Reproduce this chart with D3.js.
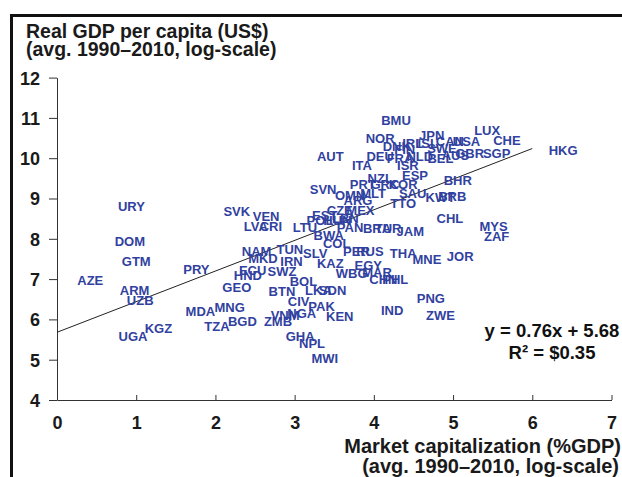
<!DOCTYPE html>
<html>
<head>
<meta charset="utf-8">
<script src="https://cdn.jsdelivr.net/npm/d3@7/dist/d3.min.js"></script>
<style>
  body { margin: 0; background: #fff; }
  svg { display: block; font-family: "Liberation Sans", Arial, sans-serif; }
  .axis path, .axis line { stroke: #333; }
  .axis text { font-size: 18px; font-weight: bold; fill: #1a1a1a; }
  .code { font-size: 13px; font-weight: bold; fill: #3141a0; }
</style>
</head>
<body>
<svg id="chart" width="622" height="477"></svg>
<script>
// country codes, market cap (x) and log GDP per capita (y)
const codes = ["URY","DOM","GTM","AZE","ARM","UZB","UGA","KGZ","PRY","MDA",
  "MNG","TZA","BGD","GEO","HND","SVK","LVA","CRI","VEN","NAM",
  "TUN","MKD","IRN","ECU","SWZ","KAZ","SLV","BOL","BTN","LKA",
  "SDN","CIV","PAK","KEN","VNM","NGA","ZMB","GHA","NPL","MWI",
  "IND","PNG","ZWE","PHL","CHN","WBG","EGY","MAR","PER","RUS",
  "THA","MNE","JOR","JAM","BRA","TUR","BWA","COL","LTU","PAN",
  "POL","HUN","EST","LBN","CZE","MEX","TTO","ARG","OMN","MLT",
  "SVN","PRT","GRC","KOR","NZL","ESP","ISR","ITA","AUT","DEU",
  "FRA","NLD","BEL","AUS","GBR","SGP","HKG","CHE","LUX","USA",
  "CAN","ISL","IRL","DNK","FIN","SWE","NOR","JPN","BMU","BHR",
  "SAU","KWT","BRB","CHL","MYS","ZAF"];
const mcap = [0.94,0.92,1.00,0.42,0.98,1.05,0.96,1.28,1.76,1.81,
  2.18,2.02,2.34,2.27,2.41,2.27,2.51,2.70,2.64,2.52,
  2.94,2.60,2.96,2.47,2.84,3.45,3.26,3.11,2.84,3.30,
  3.48,3.05,3.34,3.57,2.88,3.09,2.79,3.07,3.22,3.38,
  4.23,4.72,4.84,4.27,4.12,3.72,3.93,4.04,3.78,3.95,
  4.37,4.67,5.09,4.46,4.04,4.18,3.43,3.53,3.13,3.70,
  3.32,3.54,3.38,3.64,3.57,3.83,4.37,3.80,3.70,3.99,
  3.36,3.86,4.14,4.37,4.08,4.52,4.43,3.85,3.45,4.08,
  4.33,4.58,4.84,5.03,5.21,5.55,6.39,5.68,5.43,5.17,
  4.96,4.68,4.49,4.29,4.39,4.86,4.08,4.73,4.28,5.06,
  4.49,4.84,4.99,4.96,5.51,5.55];
const gdp = [8.81,7.93,7.43,6.98,6.73,6.48,5.59,5.78,7.24,6.21,
  6.30,5.84,5.94,6.80,7.10,8.69,8.32,8.32,8.57,7.68,
  7.75,7.52,7.43,7.23,7.20,7.39,7.64,6.94,6.69,6.73,
  6.73,6.44,6.32,6.07,6.11,6.16,5.94,5.59,5.41,5.03,
  6.23,6.53,6.11,7.00,7.00,7.14,7.35,7.18,7.68,7.68,
  7.65,7.49,7.57,8.18,8.26,8.27,8.09,7.89,8.29,8.29,
  8.47,8.47,8.59,8.52,8.71,8.71,8.89,8.96,9.09,9.14,
  9.24,9.34,9.34,9.34,9.51,9.58,9.83,9.83,10.05,10.04,
  10.00,10.05,10.00,10.08,10.13,10.13,10.20,10.45,10.70,10.41,
  10.43,10.38,10.38,10.29,10.23,10.24,10.49,10.58,10.95,9.46,
  9.14,9.04,9.06,8.52,8.32,8.05];

// fitted line y = 0.76x + 5.68, drawn from x = 0 to 6
const fitSlope = 0.76, fitIntercept = 5.68;
const fitRange = [0, 6];
const xTicks = [0, 1, 2, 3, 4, 5, 6, 7];
const yTicks = [4, 5, 6, 7, 8, 9, 10, 11, 12];

const svg = d3.select("#chart");

// outer frame (runs off the right and bottom of the picture)
svg.append("rect")
  .attr("x", 11.5).attr("y", 15.5)
  .attr("width", 700).attr("height", 600)
  .attr("fill", "none").attr("stroke", "#111").attr("stroke-width", 3);

const x = d3.scaleLinear().domain([0, 7]).range([57, 611.5]);
const y = d3.scaleLinear().domain([4, 12]).range([400, 77.6]);

svg.append("g")
  .attr("class", "axis")
  .attr("transform", "translate(57,0)")
  .call(d3.axisLeft(y).tickValues(yTicks).tickSize(8).tickSizeOuter(0).tickPadding(9).tickFormat(d3.format("d")))
  .call(g => g.selectAll("text").attr("dy", "0.36em"));

svg.append("g")
  .attr("class", "axis")
  .attr("transform", "translate(0,400)")
  .call(d3.axisBottom(x).tickValues(xTicks).tickSize(-5).tickSizeOuter(0).tickPadding(16).tickFormat(d3.format("d")));

// regression line
svg.append("line")
  .attr("x1", x(fitRange[0])).attr("y1", y(fitIntercept + fitSlope * fitRange[0]))
  .attr("x2", x(fitRange[1])).attr("y2", y(fitIntercept + fitSlope * fitRange[1]))
  .attr("stroke", "#222").attr("stroke-width", 1);

// country labels
svg.append("g").selectAll("text")
  .data(codes)
  .enter().append("text")
  .attr("class", "code")
  .attr("x", (d, i) => x(mcap[i]))
  .attr("y", (d, i) => y(gdp[i]))
  .attr("dy", "0.36em")
  .attr("text-anchor", "middle")
  .text(d => d);

// titles
const title = svg.append("text")
  .attr("x", 26).attr("y", 38)
  .attr("font-size", 19.5).attr("font-weight", "bold").attr("fill", "#1a1a1a");
title.append("tspan").text("Real GDP per capita (US$)");
title.append("tspan").attr("x", 26).attr("dy", 18).text("(avg. 1990\u20132010,  log-scale)");

const xTitle = svg.append("text")
  .attr("x", 621).attr("y", 453)
  .attr("text-anchor", "end")
  .attr("font-size", 20).attr("font-weight", "bold").attr("fill", "#1a1a1a");
xTitle.append("tspan").text("Market capitalization  (%GDP)");
xTitle.append("tspan").attr("x", 619).attr("dy", 20).text("(avg. 1990\u20132010, log-scale)");

// equation
const eq = svg.append("text")
  .attr("text-anchor", "middle")
  .attr("font-size", 18.5).attr("font-weight", "bold").attr("fill", "#111");
eq.append("tspan").attr("x", 552).attr("y", 337).text("y = " + fitSlope + "x + " + fitIntercept);
eq.append("tspan").attr("x", 552).attr("y", 359).text("R\u00b2 = $0.35");
</script>
</body>
</html>
